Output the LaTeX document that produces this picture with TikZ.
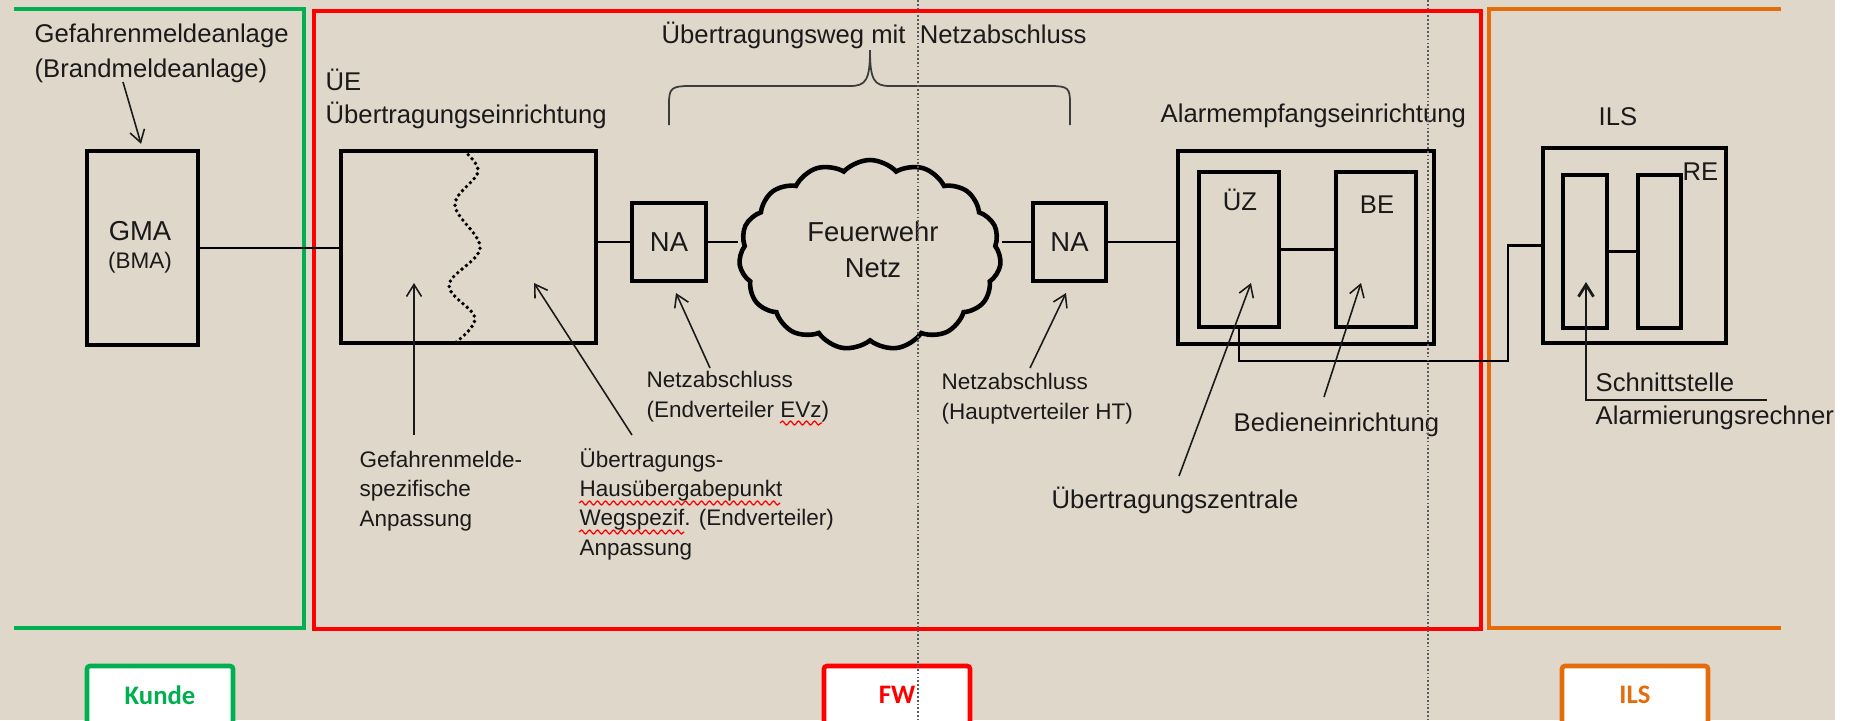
\documentclass[tikz,border=0pt]{standalone}
\usepackage{fontspec}
\setmainfont{Liberation Sans}
\newfontfamily\calibfont{Carlito}
\usetikzlibrary{positioning,arrows.meta,calc,shapes.symbols,decorations.pathmorphing}
\definecolor{bgbeige}{HTML}{DFD7CA}
\definecolor{kgreen}{HTML}{00B050}
\definecolor{fwred}{HTML}{FF0000}
\definecolor{ilsorange}{HTML}{E46C0A}
\definecolor{dotgray}{HTML}{5A5A5A}
\definecolor{ink}{HTML}{1A1A1A}

\begin{document}
\begin{tikzpicture}[x=0.1mm, y=-0.1mm,
  every node/.style={inner sep=0pt, text=ink},
  blk/.style={draw=black, line width=1.2pt},
  big/.style={font=\fontsize{7.3}{9.2}\selectfont, align=left},
  small/.style={font=\fontsize{6.4}{8.3}\selectfont, align=left},
  mid/.style={font=\fontsize{7.8}{10}\selectfont},
  conn/.style={line width=0.75pt},
  ptr/.style={-{Straight Barb[length=1.2mm,width=1.5mm]}, line width=0.45pt, draw=ink},
  zone/.style={line width=1.3pt},
  sidetag/.style={draw=#1, fill=white, line width=1.3pt, rounded corners=0.8pt,
                  minimum width=14.6mm, minimum height=5.8mm, text=#1,
                  font=\calibfont\bfseries\fontsize{7.6}{9}\selectfont},
  squig/.style={draw=fwred, line width=0.35pt, decorate,
                decoration={snake, amplitude=0.2mm, segment length=0.8mm}},
  fwsep/.style={draw=dotgray, line width=0.45pt, dash pattern=on 0.5pt off 0.6pt}]
\useasboundingbox (0,0) rectangle (1854,720);
\clip (0,0) rectangle (1854,720);
\fill[bgbeige] (0,0) rectangle (1835,720);
\fill[white] (1835,0) rectangle (1854,720);

% zones Kunde / FW / ILS
\draw[zone, kgreen] (14,9) -- (304,9) -- (304,628) -- (14,628);
\draw[zone, fwred] (314,11) rectangle (1481,629);
\draw[zone, ilsorange] (1781,9) -- (1489,9) -- (1489,628) -- (1781,628);
\node[sidetag=kgreen] (kunde) at (160,695) {Kunde};
\node[sidetag=fwred] (fw) at (897,695) {FW};
\node[sidetag=ilsorange] (ilstag) at (1635,695) {ILS};

% Kunde (multi-line nodes sit on the baseline of their last line)
\node[big, anchor=base west, font=\fontsize{7.3}{9.7}\selectfont] (gmalab) at (34,77) {Gefahrenmeldeanlage\\(Brandmeldeanlage)};
\node[blk, minimum width=11.1mm, minimum height=19.4mm] (gma) at (142.5,248) {};
\node[mid, anchor=base] (gmatxt) at (140,240) {GMA};
\node[small, anchor=base] (bmatxt) at (140,268) {(BMA)};

% Uebertragungseinrichtung
\node[big, anchor=base west] (uelab) at (325,123) {ÜE\\Übertragungseinrichtung};
\node[blk, minimum width=25.5mm, minimum height=19.2mm] (ue) at (468.5,247) {};
\draw[line width=1.1pt, dash pattern=on 0pt off 1.6pt, line cap=round]
  plot[smooth, tension=0.6] coordinates {(464,151) (478,172) (455,205) (480,248) (449,285) (475,318) (455,343)};

% Uebertragungsweg
\node[big, anchor=base west] (weglab) at (661,43) {Übertragungsweg mit\ \ Netzabschluss};
\draw[line width=0.5pt, draw=ink!85] (669,125) -- (669,103) .. controls (669,88) and (672,86) .. (690,86)
  -- (850,86) .. controls (866,86) and (870,80) .. (870,50) .. controls (870,80) and (874,86) .. (890,86)
  -- (1050,86) .. controls (1068,86) and (1070,88) .. (1070,103) -- (1070,125);
\node[blk, mid, minimum width=7.4mm, minimum height=7.8mm] (na1) at (669,242) {NA};
\node[cloud, draw=black, line width=1.3pt, cloud puffs=15, cloud puff arc=95, cloud ignores aspect,
      minimum width=26.2mm, minimum height=19mm] (net) at (870,255) {};
\node[mid, align=center, anchor=base] (nettxt) at (873,277) {Feuerwehr\\Netz};
\node[blk, mid, minimum width=7.3mm, minimum height=7.8mm] (na2) at (1069.5,242) {NA};

% Alarmempfangseinrichtung
\node[big, anchor=base west] (aelab) at (1160,122) {Alarmempfangseinrichtung};
\node[blk, minimum width=25.6mm, minimum height=19.3mm] (ae) at (1306,247.5) {};
\node[blk, minimum width=8mm, minimum height=15.5mm] (uz) at (1239,249.5) {};
\node[blk, minimum width=8mm, minimum height=15.5mm] (be) at (1376,249.5) {};
\node[big, anchor=base] (uztxt) at (1240,210) {ÜZ};
\node[big, anchor=base] (betxt) at (1377,213) {BE};

% ILS
\node[big, anchor=base west] (ilslab) at (1598,125) {ILS};
\node[blk, minimum width=18.3mm, minimum height=19.5mm] (ils) at (1634.5,245.5) {};
\node[blk, minimum width=4.4mm, minimum height=15.3mm] (re1) at (1585,251.5) {};
\node[blk, minimum width=4.3mm, minimum height=15.3mm] (re2) at (1659.5,251.5) {};
\node[big, anchor=base west] (relab) at (1682,180) {RE};

% connections
\draw[conn] (gma.east) -- (gma.east -| ue.west);
\draw[conn] (na1.west) -- (na1.west -| ue.east);
\draw[conn] (na1.east) -- (na1.east -| net.west);
\draw[conn] (na2.west) -- (na2.west -| net.east);
\draw[conn] (na2.east) -- (na2.east -| ae.west);
\draw[conn] (uz) -- (be);
\coordinate (jog) at (1508,361);
\draw[conn] (uz.south) |- (jog) |- (ils.west);
\draw[conn] (re1) -- (re2);

% labels below
\node[small, anchor=base west] (gsplab) at (359,526) {Gefahrenmelde-\\spezifische\\Anpassung};
\node[small, anchor=base west] (huplab) at (579,555) {Übertragungs-\\Hausübergabepunkt\\Wegspezif. (Endverteiler)\\Anpassung};
\node[small, anchor=base west] (evzlab) at (646,417) {Netzabschluss\\(Endverteiler EVz)};
\node[small, anchor=base west] (htlab) at (941,419) {Netzabschluss\\(Hauptverteiler HT)};
\node[big, anchor=base west] (belab) at (1233,431) {Bedieneinrichtung};
\node[big, anchor=base west] (uzlab) at (1051,508) {Übertragungszentrale};
\node[big, anchor=base west] (sstlab) at (1595,424) {Schnittstelle\\Alarmierungsrechner};
\draw[squig] (780,423) -- (822,423);
\draw[squig] (579,503) -- (780,503);
\draw[squig] (579,532) -- (684,532);

% pointers
\coordinate (gmatail) at (123,82);
\coordinate (gsptail) at (414,435);  \coordinate (gsptip) at (414,283);
\coordinate (huptail) at (632,435);  \coordinate (huptip) at (534,283);
\coordinate (evztail) at (710,368);  \coordinate (evztip) at (676,293);
\coordinate (httail) at (1030,368);  \coordinate (httip) at (1066,293);
\coordinate (uztail) at (1179,476);  \coordinate (uztip) at (1251,283);
\coordinate (betail) at (1324,397);  \coordinate (betip) at (1361,283);
\coordinate (ssttail) at (1767,400); \coordinate (ssttip) at (1586,282);
\draw[ptr, shorten >=1.5pt] (gmatail) -- (gma.north);
\draw[ptr] (gsptail) -- (gsptip);
\draw[ptr] (huptail) -- (huptip);
\draw[ptr] (evztail) -- (evztip);
\draw[ptr] (httail) -- (httip);
\draw[ptr] (uztail) -- (uztip);
\draw[ptr] (betail) -- (betip);
\draw[ptr, line width=0.8pt] (ssttail) -| (ssttip);

% dotted separators
\draw[fwsep] (918,0) -- (918,720);
\draw[fwsep] (1428,0) -- (1428,720);
\end{tikzpicture}
\end{document}
